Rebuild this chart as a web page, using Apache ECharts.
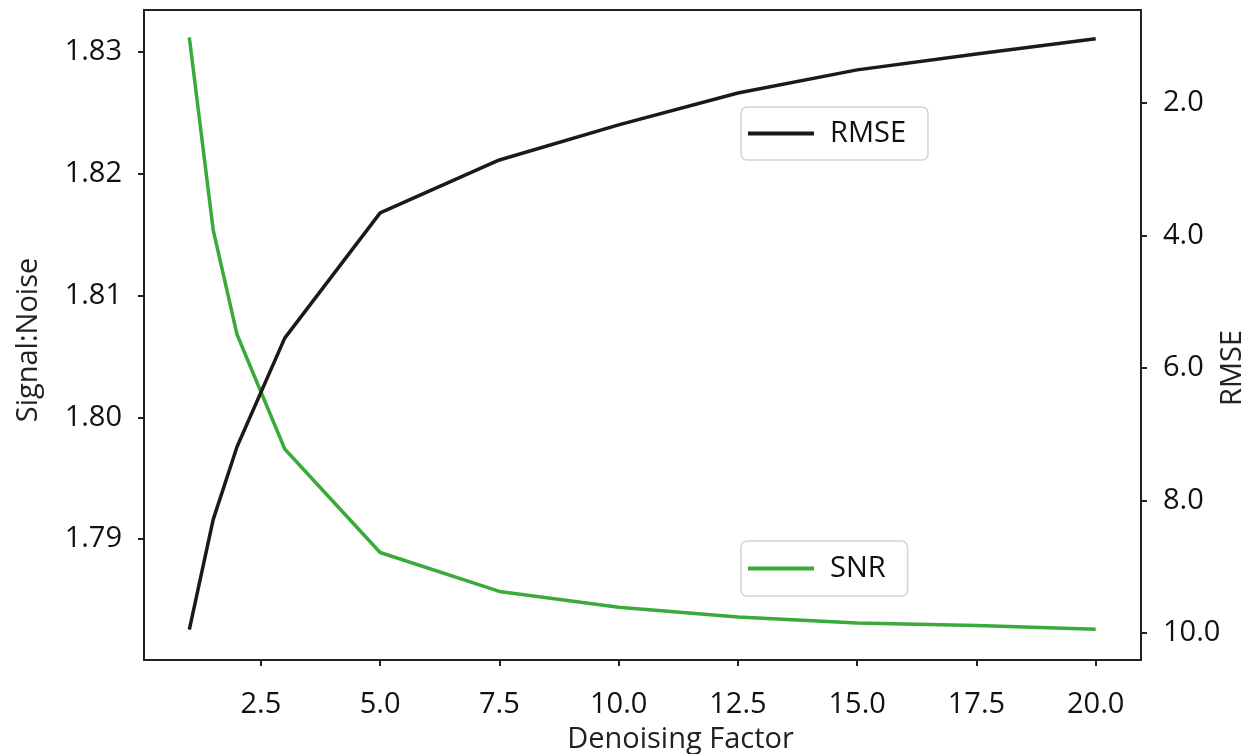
<!DOCTYPE html>
<html>
<head>
<meta charset="utf-8">
<script src="https://cdn.jsdelivr.net/npm/echarts@6/dist/echarts.min.js"></script>
<style>
html,body{margin:0;padding:0;background:#fff;}
#c{width:1256px;height:754px;}
</style>
</head>
<body>
<div id="c"></div>
<script>
const denoisingFactor = [1, 1.5, 2, 3, 5, 7.5, 10, 12.5, 15, 17.5, 20];
const snrValues = [1.8312, 1.8154, 1.8068, 1.7974, 1.7889, 1.7857, 1.7844, 1.7836, 1.7831, 1.7829, 1.7826];
const rmseValues = [9.95, 8.29, 7.19, 5.55, 3.66, 2.86, 2.33, 1.85, 1.50, 1.26, 1.03];
const xTicks = [2.5, 5.0, 7.5, 10.0, 12.5, 15.0, 17.5, 20.0];
const snrTicks = [1.79, 1.80, 1.81, 1.82, 1.83];
const rmseTicks = [2, 4, 6, 8, 10];

const FONT = 'Open Sans';
const FS = 29;
const chart = echarts.init(document.getElementById('c'), null, {renderer: 'canvas'});
const axisLine = {show: true, lineStyle: {color: '#222', width: 2}};
const axisTick = {show: true, length: 6, lineStyle: {color: '#222', width: 2}};

chart.setOption({
  animation: false,
  backgroundColor: '#fff',
  textStyle: {fontFamily: FONT},
  grid: {left: 144, right: 115, top: 10, bottom: 94, outerBoundsMode: 'none', containLabel: false,
         show: true, borderColor: '#222', borderWidth: 2, backgroundColor: 'transparent'},
  legend: [
    {
      data: ['RMSE'], left: 741, top: 107, orient: 'vertical',
      icon: 'rect', itemWidth: 66, itemHeight: 4,
      backgroundColor: '#fff', borderColor: '#d4d4d4', borderWidth: 1.5, borderRadius: 6,
      padding: [12, 22, 12, 7],
      textStyle: {fontFamily: FONT, fontSize: FS, color: '#111', padding: [0, 0, 0, 11]}
    },
    {
      data: ['SNR'], left: 741, top: 541, orient: 'vertical',
      icon: 'rect', itemWidth: 66, itemHeight: 4,
      backgroundColor: '#fff', borderColor: '#d4d4d4', borderWidth: 1.5, borderRadius: 6,
      padding: [13, 22, 13, 7],
      textStyle: {fontFamily: FONT, fontSize: FS, color: '#111', padding: [0, 0, 0, 11]}
    }
  ],
  xAxis: {
    type: 'value', min: 0.05, max: 20.95,
    name: 'Denoising Factor', nameLocation: 'middle', nameGap: 65,
    nameTextStyle: {fontFamily: FONT, fontSize: FS, color: '#222', padding: [0, 0, 0, 76]},
    axisLine: axisLine,
    axisTick: Object.assign({customValues: xTicks}, axisTick),
    axisLabel: {customValues: xTicks, margin: 30, fontFamily: FONT, fontSize: FS, color: '#111', formatter: v => v.toFixed(1)},
    splitLine: {show: false}
  },
  yAxis: [
    {
      type: 'value', min: 1.78007, max: 1.83345, position: 'left',
      name: 'Signal:Noise', nameLocation: 'middle', nameGap: 101, nameRotate: 90,
      nameTextStyle: {fontFamily: FONT, fontSize: FS, color: '#222', padding: [0, 10, 0, 0]},
      axisLine: axisLine,
      axisTick: Object.assign({customValues: snrTicks}, axisTick),
      axisLabel: {customValues: snrTicks, margin: 22, fontFamily: FONT, fontSize: FS, color: '#111', formatter: v => v.toFixed(2)},
      splitLine: {show: false}
    },
    {
      type: 'value', min: 0.596, max: 10.41, inverse: true, position: 'right',
      name: 'RMSE', nameLocation: 'middle', nameGap: 77, nameRotate: 90, nameMoveOverlap: false,
      nameTextStyle: {fontFamily: FONT, fontSize: FS, color: '#222', padding: [0, 66, 0, 0]},
      axisLine: axisLine,
      axisTick: Object.assign({customValues: rmseTicks}, axisTick),
      axisLabel: {customValues: rmseTicks, margin: 22, fontFamily: FONT, fontSize: FS, color: '#111', formatter: v => v.toFixed(1)},
      splitLine: {show: false}
    }
  ],
  series: [
    {
      name: 'SNR', type: 'line', yAxisIndex: 0,
      data: denoisingFactor.map((x, i) => [x, snrValues[i]]),
      symbol: 'none', color: '#3aaa3a',
      lineStyle: {color: '#3aaa3a', width: 3.5}, z: 2
    },
    {
      name: 'RMSE', type: 'line', yAxisIndex: 1,
      data: denoisingFactor.map((x, i) => [x, rmseValues[i]]),
      symbol: 'none', color: '#1a1a1a',
      lineStyle: {color: '#1a1a1a', width: 3.5}, z: 2
    }
  ]
});
</script>
</body>
</html>
